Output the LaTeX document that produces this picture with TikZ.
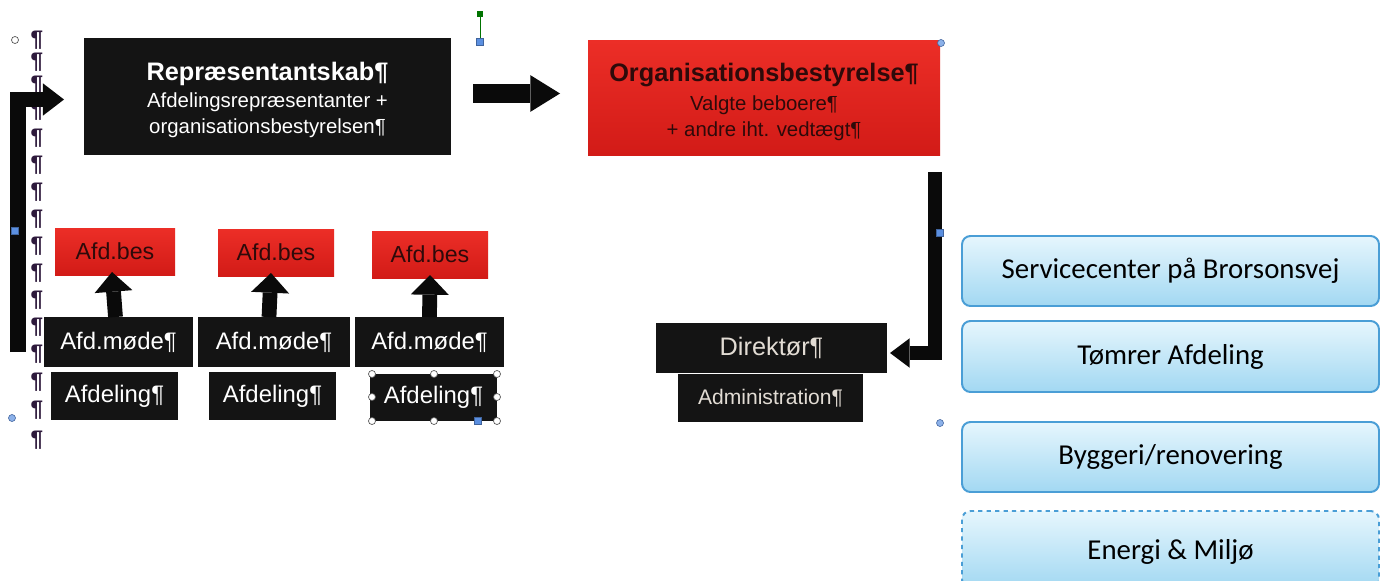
\documentclass[tikz,border=0pt]{standalone}
\usepackage{fontspec}
\setmainfont{Liberation Sans}
\newfontfamily\calibrifont{Carlito}
\usetikzlibrary{arrows.meta,calc}
\definecolor{boxblack}{HTML}{141414}
\definecolor{arrowblack}{HTML}{0A0A0A}
\definecolor{redtop}{HTML}{EC2E27}
\definecolor{redbot}{HTML}{D21B17}
\definecolor{redtext}{HTML}{2E0A0A}
\definecolor{bluetop}{HTML}{E6F6FD}
\definecolor{bluebot}{HTML}{A2D8F2}
\definecolor{blueline}{HTML}{4A9ED6}
\definecolor{pilcol}{HTML}{2E1A3C}
\definecolor{handleblue}{HTML}{5B8FE0}
\definecolor{dirtext}{HTML}{E2DCD4}
\tikzset{
  sz/.style 2 args={minimum width=#1*0.025cm, minimum height=#2*0.025cm},
  box/.style={inner sep=0pt, outer sep=0pt, rectangle},
  blackbox/.style={box, fill=boxblack, text=white},
  redbox/.style={box, top color=redtop, bottom color=redbot, text=redtext},
  bluebox/.style={box, rounded corners=6pt, draw=blueline, line width=1.4pt,
    top color=bluetop, bottom color=bluebot, text=black,
    font=\calibrifont\fontsize{20.5}{24}\selectfont},
  pil/.style={inner sep=0pt, text=pilcol, font=\bfseries\fontsize{16}{16}\selectfont},
  blockarrow/.style={draw=arrowblack, line join=miter},
  handle/.style={circle, draw=gray!70!black, fill=white, line width=0.5pt, minimum size=5pt, inner sep=0pt},
  bluehandle/.style={circle, draw=handleblue!70!black, fill=handleblue!70, minimum size=5pt, inner sep=0pt},
  sqhandle/.style={rectangle, draw=handleblue!70!black, fill=handleblue, minimum size=5pt, inner sep=0pt},
  greenhandle/.style={rectangle, fill=green!45!black, minimum size=4pt, inner sep=0pt},
}
\begin{document}
\begin{tikzpicture}[x=0.025cm, y=-0.025cm]
\useasboundingbox (0,0) rectangle (1380,580);
\fill[white] (0,0) rectangle (1380,580);
\clip (0,0) rectangle (1380,580);

% pilcrow column
\foreach \yy [count=\n] in {40,62,85,111,138,165,192,219,246,273,300,327,354,382,410,440}
  \node[pil] (p\n) at (37,\yy) {¶};

% top boxes
\node[blackbox, sz={367}{117}, align=center] (rep) at (267.5,96.5)
  {{\fontsize{18}{21}\selectfont\bfseries\rule{0pt}{18pt}Repræsentantskab¶}\\[3.5pt]
   {\fontsize{14.5}{17.5}\selectfont Afdelingsrepræsentanter +}\\[4pt]
   {\fontsize{14.5}{17.5}\selectfont organisationsbestyrelsen¶}};
\node[redbox, sz={352}{115}, align=center] (org) at (764,97.5)
  {{\fontsize{18}{21}\selectfont\bfseries\rule{0pt}{19pt}Organisationsbestyrelse¶}\\[5pt]
   {\fontsize{14.5}{17.5}\selectfont Valgte beboere¶}\\[4pt]
   {\fontsize{14.5}{17.5}\selectfont + andre iht. vedtægt¶}};

% afdelinger
\begin{scope}[every node/.append style={font=\fontsize{17}{20}\selectfont}]
\node[redbox, sz={120}{47}, font=\fontsize{16.5}{20}\selectfont] (bes1) at (115,251.5) {Afd.bes};
\node[redbox, sz={116}{47}, font=\fontsize{16.5}{20}\selectfont] (bes2) at (276,252.5) {Afd.bes};
\node[redbox, sz={116}{47}, font=\fontsize{16.5}{20}\selectfont] (bes3) at (430,254.5) {Afd.bes};
\node[blackbox, sz={149}{50}] (mode1) at (118.5,342) {Afd.møde¶};
\node[blackbox, sz={152}{50}] (mode2) at (274,342) {Afd.møde¶};
\node[blackbox, sz={149}{50}] (mode3) at (429.5,342) {Afd.møde¶};
\node[blackbox, sz={127}{48}] (afd1) at (114.5,396) {Afdeling¶};
\node[blackbox, sz={127}{48}] (afd2) at (272.5,396) {Afdeling¶};
\node[blackbox, sz={127}{47}] (afd3) at (433.5,397.5) {Afdeling¶};
\end{scope}

% direktør / administration
\node[blackbox, sz={231}{50}, text=dirtext, font=\fontsize{18}{21}\selectfont] (dir) at (771.5,348) {Direktør¶};
\node[blackbox, sz={185}{48}, text=dirtext, font=\fontsize{15}{18}\selectfont] (adm) at (770.5,398) {Administration¶};

% right blue boxes
\node[bluebox, sz={417}{70}] (svc) at (1170.5,271) {Servicecenter på Brorsonsvej};
\node[bluebox, sz={417}{71}] (tom) at (1170.5,356.5) {Tømrer Afdeling};
\node[bluebox, sz={417}{70}] (byg) at (1170.5,457) {Byggeri/renovering};
\node[bluebox, dashed, sz={417}{77}, text depth=0pt] (eng) at (1170.5,549.5) {Energi \& Miljø};

% arrows
\draw[blockarrow, line width=14pt, -{Triangle[width=26pt,length=21pt,line width=0pt]}]
  ($(rep.east)+(22,-3)$) -- ($(org.west)+(-28,-4)$);
\foreach \i/\dx in {1/-3,2/-5,3/0}
  \draw[blockarrow, line width=10.5pt, -{Triangle[width=27pt,length=14pt,line width=0pt]}]
    ($(mode\i.north)+(\dx,0)$) -- ($(bes\i.south)+(\dx,-3)$);
\draw[blockarrow, line width=10.5pt, -{Triangle[width=21pt,length=14pt,line width=0pt]}]
  ($(org.south east)+(-5,17)$) |- ($(dir.east)+(3,5)$);
\coordinate (lbot) at (18,352);
\draw[blockarrow, line width=11pt, -{Triangle[width=23pt,length=15pt,line width=0pt]}]
  (lbot) |- ($(rep.west)+(-20,3)$);

% editing handles
\node[handle] (h1) at (15,40) {};
\node[bluehandle] (h2) at (12,418) {};
\node[sqhandle] (h3) at (15,231) {};
\node[sqhandle] (h4) at (940,233) {};
\node[bluehandle] (h5) at (941,43) {};
\node[bluehandle] (h6) at (940,423) {};
\node[sqhandle] (h7) at (480,42) {};
\node[greenhandle] (h8) at (480,14) {};
\draw[green!45!black, line width=0.6pt] (h8) -- (h7);
\foreach \hx/\hy [count=\k] in {372/374,434/374,497/374,372/397,497/397,372/421,434/421,497/421}
  \node[handle] (ha\k) at (\hx,\hy) {};
\node[sqhandle] (ha9) at (478,421) {};
\end{tikzpicture}
\end{document}
